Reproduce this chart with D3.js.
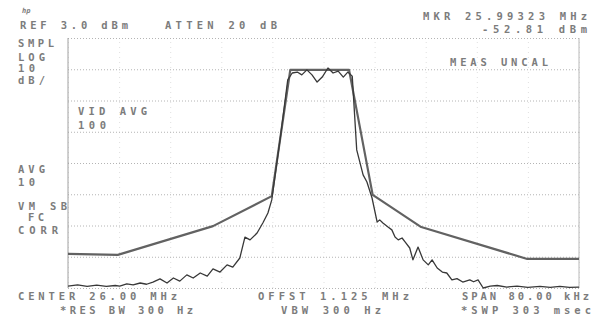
<!DOCTYPE html>
<html>
<head>
<meta charset="utf-8">
<script src="https://cdn.jsdelivr.net/npm/d3@7"></script>
<style>
  body { margin: 0; background: #fff; }
  svg { display: block; }
  text { font-family: "DejaVu Sans Mono", monospace; font-size: 10.5px; font-weight: bold; fill: #7c7c7c; }
  .grid line { stroke: #b4b4b4; stroke-dasharray: 1,2; }
  .grid path { display: none; }
  .vgrid line { stroke: #e0e0e0; stroke-dasharray: 1,4; }
  .vgrid path { display: none; }
</style>
</head>
<body>
<svg id="chart" width="594" height="320"></svg>
<script>
// frequency offset from centre, kHz (span 80 kHz)
var freqTicks = [-40, -32, -24, -16, -8, 0, 8, 16, 24, 32, 40];
// amplitude graticule, dBm (REF 3.0 dBm, 10 dB/div)
var dbTicks = [3, -7, -17, -27, -37, -47, -57, -67, -77];

// spectral mask
var maskKHz = [-40, -32.2, -17.3, -8.1, -5.2, 4.0, 7.7, 15.3, 31.9, 40];
var maskDbm = [-66.1, -66.4, -57.2, -47.6, -7.2, -7.2, -47.2, -57.5, -67.7, -67.7];

// measured trace
var traceKHz = [-40, -38.5, -37, -35.5, -34, -32.6, -31.9, -30.8, -29.8, -28.7, -27.7, -26.7, -25.6, -24.5,
  -23.5, -22.5, -21.4, -20.4, -19.3, -18.2, -17.3, -16.2, -15.1, -14.2, -13.1, -12.3, -11.5, -10.4,
  -9.5, -8.7, -8.1, -6.7, -5.6, -4.9, -4.1, -3.4, -2.6, -1.8, -1.0, -0.2, 0.7, 1.5, 2.3, 3.1, 3.8,
  4.5, 5.2, 6.2, 6.8, 7.6, 8.4, 8.8, 9.3, 10.1, 10.7, 11.2, 11.7, 12.3, 12.8, 13.5, 14.0, 14.8, 15.6,
  16.4, 17.0, 17.8, 18.6, 19.3, 20.1, 20.9, 21.8, 22.9, 23.5, 24.2, 25.0, 26.1, 27.2, 28.7, 30.3,
  32.0, 33.9, 35.5, 37.0, 38.5, 40];
var traceDbm = [-76.4, -76.0, -76.5, -76.1, -76.5, -76.2, -76.4, -75.7, -76.0, -75.4, -75.8, -75.1, -74.1, -75.4,
  -73.8, -74.8, -72.8, -73.8, -72.2, -73.2, -70.9, -71.9, -69.6, -70.3, -67.4, -60.7, -61.6, -59.4,
  -56.2, -53.0, -48.8, -28.0, -10.4, -8.2, -7.9, -8.8, -7.2, -8.8, -11.1, -9.5, -6.6, -8.2, -7.6, -9.5, -7.9,
  -9.2, -32.8, -40.8, -43.1, -48.2, -55.9, -55.2, -56.2, -57.5, -58.4, -60.7, -61.6, -61.0, -62.3, -64.2, -68.0, -63.9, -68.0,
  -69.6, -68.0, -70.6, -71.9, -72.2, -74.4, -74.0, -75.1, -74.4, -75.0, -74.4, -77.0, -76.4, -76.2, -76.7, -76.4,
  -76.8, -76.5, -76.8, -76.5, -76.8, -76.7];

var plot = {left: 68, right: 579, top: 38, bottom: 288};

var svg = d3.select("#chart");

var x = d3.scaleLinear()
    .domain([-40, 40])
    .range([plot.left, plot.right]);

var y = d3.scaleLinear()
    .domain([-77, 3])
    .range([plot.bottom, plot.top]);

// vertical divisions (very faint on the plot)
svg.append("g")
    .attr("class", "vgrid")
    .attr("transform", "translate(0," + plot.bottom + ")")
    .call(d3.axisBottom(x).tickValues(freqTicks).tickSize(-(plot.bottom - plot.top)).tickFormat(""));

// horizontal divisions (dotted)
svg.append("g")
    .attr("class", "grid")
    .attr("transform", "translate(" + plot.left + ",0)")
    .call(d3.axisLeft(y).tickValues(dbTicks).tickSize(-(plot.right - plot.left)).tickFormat(""));

// left and right edges of the screen
svg.append("line")
    .attr("x1", x(-40)).attr("x2", x(-40))
    .attr("y1", y(3)).attr("y2", y(-77))
    .style("stroke", "#a0a0a0").style("stroke-width", 1);
svg.append("line")
    .attr("x1", x(40)).attr("x2", x(40))
    .attr("y1", y(3)).attr("y2", y(-77))
    .style("stroke", "#b8b8b8").style("stroke-width", 1);

var line = d3.line()
    .x(function(d) { return x(d[0]); })
    .y(function(d) { return y(d[1]); });

var maskPts = maskKHz.map(function(f, i) { return [f, maskDbm[i]]; });
var tracePts = traceKHz.map(function(f, i) { return [f, traceDbm[i]]; });

svg.append("path")
    .datum(maskPts)
    .attr("d", line)
    .style("fill", "none")
    .style("stroke", "#626262")
    .style("stroke-width", 2.2)
    .style("stroke-linejoin", "round");

svg.append("path")
    .datum(tracePts)
    .attr("d", line)
    .style("fill", "none")
    .style("stroke", "#383838")
    .style("stroke-width", 1.3)
    .style("stroke-linejoin", "round");

// screen annotations
var labels = [
  {t: "REF 3.0 dBm", x: 20, y: 29, w: 108},
  {t: "ATTEN 20 dB", x: 165, y: 29, w: 112},
  {t: "MKR 25.99323 MHz", x: 423, y: 20, w: 164},
  {t: "-52.81 dBm", x: 482, y: 33, w: 105},
  {t: "SMPL", x: 18, y: 47, w: 36},
  {t: "LOG", x: 18, y: 61, w: 27},
  {t: "10", x: 18, y: 72, w: 17},
  {t: "dB/", x: 18, y: 84, w: 27},
  {t: "MEAS UNCAL", x: 450, y: 66, w: 98},
  {t: "VID AVG", x: 78, y: 115, w: 69},
  {t: "100", x: 78, y: 129, w: 28},
  {t: "AVG", x: 18, y: 173, w: 27},
  {t: "10", x: 18, y: 186, w: 17},
  {t: "VM SB", x: 18, y: 210, w: 49},
  {t: "FC", x: 28, y: 221, w: 16},
  {t: "CORR", x: 18, y: 234, w: 40},
  {t: "CENTER 26.00 MHz", x: 18, y: 300, w: 159},
  {t: "*RES BW 300 Hz", x: 60, y: 314, w: 133},
  {t: "OFFST 1.125 MHz", x: 258, y: 300, w: 151},
  {t: "VBW 300 Hz", x: 281, y: 314, w: 100},
  {t: "SPAN 80.00 kHz", x: 462, y: 300, w: 127},
  {t: "*SWP 303 msec", x: 461, y: 314, w: 130}
];

svg.selectAll("text.lbl")
    .data(labels)
    .enter().append("text")
    .attr("class", "lbl")
    .attr("x", function(d) { return d.x; })
    .attr("y", function(d) { return d.y; })
    .attr("textLength", function(d) { return d.w; })
    .attr("lengthAdjust", "spacing")
    .text(function(d) { return d.t; });

// small logo mark top-left
svg.append("text")
    .attr("x", 22).attr("y", 13)
    .style("font-size", "7px")
    .style("font-style", "italic")
    .text("hp");
</script>
</body>
</html>
